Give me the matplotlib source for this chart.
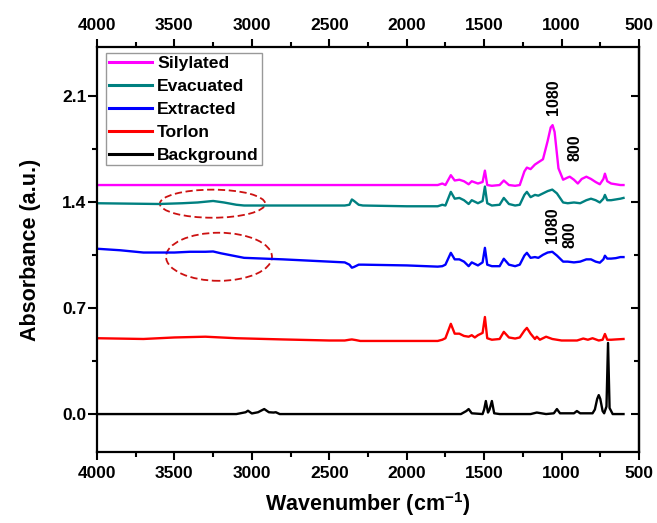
import matplotlib
matplotlib.use("Agg")
import matplotlib.pyplot as plt
from matplotlib.patches import Ellipse
from matplotlib.ticker import MultipleLocator

plt.rcParams["font.family"] = ["Liberation Sans", "DejaVu Sans"]
plt.rcParams["font.weight"] = "bold"
plt.rcParams["mathtext.fontset"] = "custom"
plt.rcParams["mathtext.rm"] = "Liberation Sans:bold"
plt.rcParams["mathtext.bf"] = "Liberation Sans:bold"
plt.rcParams["mathtext.it"] = "Liberation Sans:bold"

# ── spectra (wavenumber, absorbance) ──
sil_x = [4000, 3000, 2000, 1800, 1770, 1750, 1715, 1690, 1660, 1630, 1600, 1580,
         1540, 1510, 1495, 1480, 1450, 1400, 1373, 1340, 1300, 1270, 1240, 1224,
         1200, 1172, 1150, 1120, 1090, 1070, 1058, 1045, 1020, 990, 960, 947, 920,
         895, 870, 840, 810, 780, 753, 730, 720, 705, 680, 650, 620, 600]
sil_y = [1.51, 1.51, 1.51, 1.51, 1.52, 1.51, 1.575, 1.54, 1.545, 1.535, 1.515, 1.535,
         1.52, 1.53, 1.605, 1.51, 1.505, 1.51, 1.54, 1.51, 1.505, 1.51, 1.60, 1.625,
         1.615, 1.645, 1.66, 1.68, 1.80, 1.89, 1.905, 1.86, 1.62, 1.545, 1.56, 1.565, 1.545,
         1.52, 1.55, 1.565, 1.55, 1.53, 1.515, 1.55, 1.585, 1.535, 1.52, 1.515, 1.51, 1.51]

eva_x = [4000, 3600, 3450, 3350, 3250, 3180, 3100, 3050, 2400, 2370, 2354, 2340,
         2310, 2283, 2000, 1800, 1770, 1750, 1715, 1690, 1660, 1630, 1600, 1580,
         1540, 1510, 1495, 1480, 1450, 1400, 1373, 1340, 1300, 1270, 1240, 1224,
         1200, 1172, 1150, 1120, 1090, 1060, 1030, 990, 960, 920, 880, 840, 810,
         780, 753, 730, 720, 705, 680, 650, 620, 600]
eva_y = [1.39, 1.385, 1.39, 1.395, 1.405, 1.395, 1.38, 1.375, 1.375, 1.38, 1.415, 1.405,
         1.38, 1.375, 1.37, 1.37, 1.38, 1.375, 1.465, 1.42, 1.425, 1.41, 1.385, 1.41,
         1.39, 1.405, 1.50, 1.39, 1.375, 1.38, 1.425, 1.385, 1.375, 1.38, 1.445, 1.465,
         1.43, 1.445, 1.44, 1.455, 1.47, 1.48, 1.455, 1.395, 1.39, 1.395, 1.39, 1.41, 1.42,
         1.41, 1.395, 1.42, 1.445, 1.41, 1.41, 1.415, 1.42, 1.425]

ext_x = [4000, 3850, 3700, 3500, 3400, 3300, 3250, 3200, 3100, 3050, 2800, 2500,
         2400, 2370, 2354, 2340, 2310, 2283, 2000, 1800, 1770, 1750, 1715, 1690,
         1660, 1630, 1600, 1580, 1540, 1510, 1495, 1480, 1450, 1400, 1373, 1340,
         1300, 1270, 1240, 1224, 1200, 1172, 1150, 1120, 1090, 1060, 1030, 990, 960,
         920, 880, 840, 810, 780, 753, 730, 720, 705, 680, 650, 620, 600]
ext_y = [1.09, 1.08, 1.065, 1.065, 1.07, 1.07, 1.072, 1.06, 1.04, 1.03, 1.02, 1.005,
         1.0, 0.985, 0.965, 0.97, 0.985, 0.985, 0.98, 0.972, 0.975, 0.985, 1.063, 1.02,
         1.02, 1.005, 0.975, 1.0, 0.98, 1.0, 1.096, 0.985, 0.975, 0.975, 1.024, 0.985,
         0.975, 0.985, 1.045, 1.063, 1.03, 1.035, 1.03, 1.05, 1.065, 1.07, 1.045, 1.005, 1.005,
         1.0, 1.005, 1.02, 1.02, 1.005, 0.998, 1.02, 1.044, 1.025, 1.025, 1.028, 1.035, 1.035]

tor_x = [4000, 3700, 3500, 3300, 3100, 2800, 2500, 2400, 2370, 2354, 2330, 2300,
         2000, 1800, 1770, 1750, 1715, 1690, 1660, 1630, 1600, 1580, 1560, 1540,
         1510, 1495, 1480, 1450, 1400, 1373, 1340, 1300, 1270, 1240, 1224, 1200,
         1172, 1160, 1140, 1100, 1060, 1000, 900, 860, 830, 800, 760, 735, 720,
         705, 680, 650, 600]
tor_y = [0.50, 0.495, 0.505, 0.51, 0.50, 0.492, 0.485, 0.485, 0.49, 0.492, 0.488, 0.482,
         0.482, 0.482, 0.49, 0.50, 0.595, 0.53, 0.53, 0.515, 0.51, 0.52, 0.505, 0.52,
         0.535, 0.64, 0.50, 0.49, 0.495, 0.542, 0.505, 0.498, 0.505, 0.55, 0.568, 0.53,
         0.495, 0.51, 0.49, 0.51, 0.495, 0.485, 0.485, 0.498, 0.49, 0.50, 0.485, 0.49, 0.528,
         0.49, 0.49, 0.492, 0.495]

bkg_x = [4000, 3100, 3060, 3040, 3025, 3000, 2960, 2920, 2890, 2860, 2845, 2820,
         2000, 1650, 1615, 1600, 1580, 1510, 1500, 1489, 1475, 1465, 1450, 1435,
         1400, 1200, 1160, 1100, 1050, 1030, 1010, 920, 901, 880, 800, 785, 770, 760,
         750, 735, 725, 710, 700, 690, 670, 600]
bkg_y = [0.0, 0.0, 0.008, 0.012, 0.022, 0.004, 0.012, 0.033, 0.012, 0.01, 0.012, 0.0,
         0.0, 0.0, 0.02, 0.033, 0.005, 0.0, 0.03, 0.086, 0.01, 0.03, 0.086, 0.005,
         0.0, 0.0, 0.01, 0.0, 0.005, 0.033, 0.005, 0.005, 0.02, 0.005, 0.005, 0.03, 0.10, 0.125,
         0.10, 0.02, 0.005, 0.05, 0.469, 0.04, 0.0, 0.0]

series = [
    ("Silylated", sil_x, sil_y, "#FF00FF"),
    ("Evacuated", eva_x, eva_y, "#008080"),
    ("Extracted", ext_x, ext_y, "#0000FF"),
    ("Torlon", tor_x, tor_y, "#FF0000"),
    ("Background", bkg_x, bkg_y, "#000000"),
]

# peak labels: (text, wavenumber, absorbance)
peak_labels = [("1080", 1050, 2.09), ("800", 914, 1.755),
               ("1080", 1056, 1.245), ("800", 946, 1.182)]

# dashed ellipses around the O-H region: (centre x, centre y, width, height)
ellipses = [(3254, 1.387, 680, 0.185), (3212, 1.037, 684, 0.317)]

fig = plt.figure(figsize=(6.57, 5.23), dpi=100)
ax = fig.add_axes([0.1476, 0.1358, 0.8250, 0.7743])

for name, xs, ys, col in series:
    ax.plot(xs, ys, color=col, lw=1.7, label=name)

for cx, cy, w, h in ellipses:
    ax.add_patch(Ellipse((cx, cy), w, h, fill=False, edgecolor="#CC1111",
                         lw=1.3, linestyle=(0, (4, 2))))

for txt, x, y in peak_labels:
    ax.text(x, y, txt, rotation=90, ha="center", va="center",
            fontsize=11.5, fontweight="bold")

ax.set_xlim(4000, 500)
ax.set_ylim(-0.25, 2.42)
ax.xaxis.set_major_locator(MultipleLocator(500))
ax.xaxis.set_minor_locator(MultipleLocator(250))
ax.yaxis.set_major_locator(MultipleLocator(0.7))
ax.yaxis.set_minor_locator(MultipleLocator(0.35))
ax.yaxis.set_major_formatter(plt.FuncFormatter(lambda v, p: f"{v:.1f}"))

for sp in ax.spines.values():
    sp.set_linewidth(1.6)

ax.tick_params(axis="x", which="both", direction="out", top=True, labeltop=True,
               labelsize=12.5, width=1.5, pad=4)
ax.tick_params(axis="x", which="major", length=6)
ax.tick_params(axis="x", which="minor", length=3.6)
ax.tick_params(axis="y", which="both", direction="out", labelsize=12.5, width=1.5, pad=1)
ax.tick_params(axis="y", which="major", length=6.5)
ax.tick_params(axis="y", which="minor", length=3.6)

# right side ticks point inward, no labels
sec = ax.secondary_yaxis("right")
sec.yaxis.set_major_locator(MultipleLocator(0.7))
sec.yaxis.set_minor_locator(MultipleLocator(0.35))
sec.tick_params(which="both", direction="in", labelright=False, width=1.5)
sec.tick_params(which="major", length=6)
sec.tick_params(which="minor", length=3.6)
sec.spines["right"].set_linewidth(1.6)

ax.set_xlabel("Wavenumber (cm$^{-1}$)", fontsize=15.5, fontweight="bold", labelpad=7)
ax.set_ylabel("Absorbance (a.u.)", fontsize=15.5, fontweight="bold", labelpad=15)

leg = ax.legend(loc="upper left", bbox_to_anchor=(0.0166, 0.985), borderaxespad=0,
                handlelength=2.5, handletextpad=0.28, labelspacing=0.44,
                fancybox=False, borderpad=0.15, prop={"weight": "bold", "size": 12.6})
leg.get_frame().set_edgecolor("#808080")
leg.get_frame().set_linewidth(1.0)
for ln in leg.get_lines():
    ln.set_linewidth(2.2)

fig.savefig("out.png", dpi=100)
